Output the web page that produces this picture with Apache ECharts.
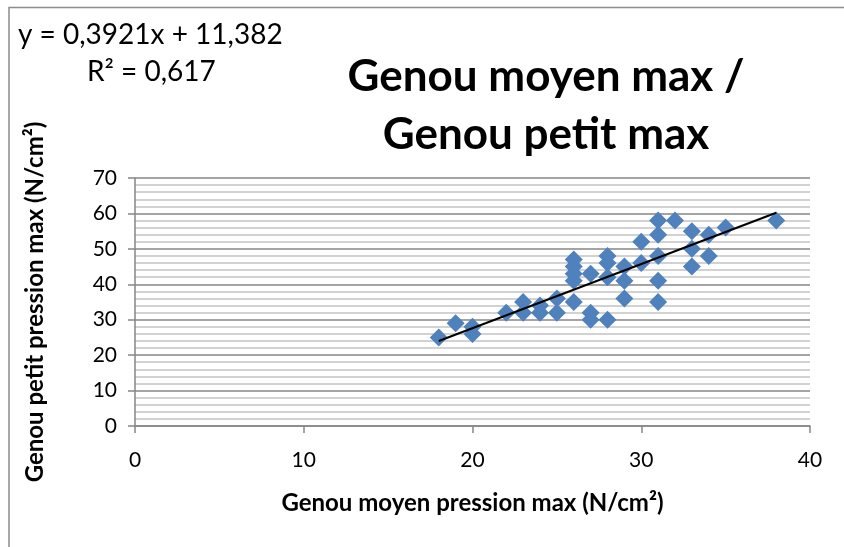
<!DOCTYPE html>
<html>
<head>
<meta charset="utf-8">
<script src="https://cdn.jsdelivr.net/npm/echarts@6/dist/echarts.min.js"></script>
<style>
  html, body { margin: 0; padding: 0; background: #fff; }
  #chart { width: 844px; height: 547px; }
</style>
</head>
<body>
<div id="chart"></div>
<script>
// Genou moyen pression max (x) vs Genou petit pression max (y)
const moyenX = [18, 19, 20, 20, 22, 23, 23, 24, 24, 25, 25,
  26, 26, 26, 26, 26, 27, 27, 27, 28, 28, 28, 28,
  29, 29, 29, 30, 30, 31, 31, 31, 31, 31, 32,
  33, 33, 33, 34, 34, 35, 38];
const petitY = [25, 29, 28, 26, 32, 35, 32, 34, 32, 36, 32,
  47, 45, 43, 41, 35, 43, 32, 30, 48, 46, 42, 30,
  45, 41, 36, 52, 46, 58, 54, 48, 41, 35, 58,
  55, 50, 45, 54, 48, 56, 58];

// trendline as drawn (end points)
const trendX = [18, 38];
const trendY = [24, 60.2];

const xTicks = [0, 10, 20, 30, 40];
const yTicks = [0, 10, 20, 30, 40, 50, 60, 70];

const equationText = 'y = 0,3921x + 11,382';
const r2Text = 'R² = 0,617';

const points = moyenX.map((x, i) => [x, petitY[i]]);
const trend = trendX.map((x, i) => [x, trendY[i]]);

const font = 'Lato, "Open Sans", sans-serif';
const axisGray = '#868686';

const chart = echarts.init(document.getElementById('chart'));

chart.setOption({
  animation: false,
  title: {
    text: 'Genou moyen max /\nGenou petit max',
    left: 541,
    top: 43,
    textAlign: 'center',
    textStyle: {
      fontFamily: font,
      fontWeight: 'bold',
      fontSize: 44,
      lineHeight: 58,
      color: '#000'
    }
  },
  graphic: [
    {
      type: 'polyline',
      shape: { points: [[9, 560], [9, 7.5], [860, 7.5]] },
      style: { stroke: '#8c8c8c', fill: null, lineWidth: 1.5 },
      silent: true
    },
    {
      type: 'text',
      left: 18,
      top: 21,
      style: { text: equationText, font: '28px ' + font, fill: '#000' }
    },
    {
      type: 'text',
      left: 87,
      top: 58,
      style: { text: r2Text, font: '28px ' + font, fill: '#000' }
    }
  ],
  grid: {
    left: 135,
    right: 34,
    top: 178,
    bottom: 121
  },
  xAxis: {
    type: 'value',
    min: xTicks[0],
    max: xTicks[xTicks.length - 1],
    interval: 10,
    name: 'Genou moyen pression max (N/cm²)',
    nameLocation: 'middle',
    nameGap: 65,
    nameTextStyle: { fontFamily: font, fontWeight: 'bold', fontSize: 24, color: '#000' },
    axisLine: { show: true, lineStyle: { color: axisGray, width: 1.5 } },
    axisTick: { show: true, length: 7, lineStyle: { color: axisGray, width: 1.5 } },
    axisLabel: { fontFamily: font, fontSize: 21, color: '#000', margin: 24 },
    splitLine: { show: false }
  },
  yAxis: {
    type: 'value',
    min: yTicks[0],
    max: yTicks[yTicks.length - 1],
    interval: 10,
    name: 'Genou petit pression max (N/cm²)',
    nameLocation: 'middle',
    nameGap: 88,
    nameTextStyle: { fontFamily: font, fontWeight: 'bold', fontSize: 24, color: '#000' },
    axisLine: { show: true, lineStyle: { color: axisGray, width: 1.5 } },
    axisTick: { show: true, length: 7, lineStyle: { color: axisGray, width: 1.5 } },
    axisLabel: { fontFamily: font, fontSize: 21, color: '#000', margin: 18 },
    splitLine: { show: true, lineStyle: { color: axisGray, width: 1.5 } },
    minorTick: { show: false, splitNumber: 5 },
    minorSplitLine: { show: true, lineStyle: { color: '#c4c4c4', width: 1.5 } }
  },
  series: [
    {
      name: 'points',
      type: 'scatter',
      symbol: 'diamond',
      symbolSize: 18,
      itemStyle: { color: '#4f81bd', opacity: 1 },
      data: points,
      z: 2
    },
    {
      name: 'trend',
      type: 'line',
      data: trend,
      showSymbol: false,
      symbol: 'none',
      lineStyle: { color: '#000', width: 2 },
      z: 3
    }
  ]
});
</script>
</body>
</html>
